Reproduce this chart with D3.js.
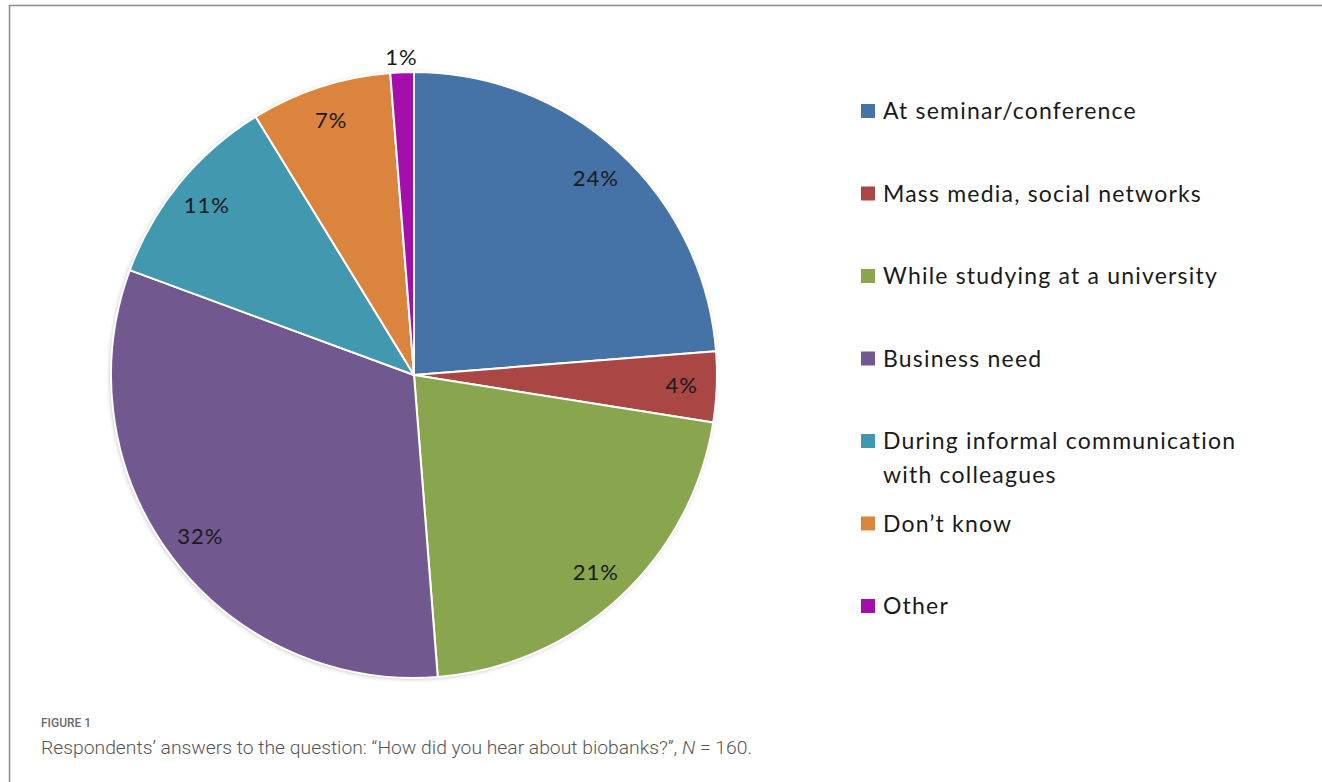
<!DOCTYPE html>
<html>
<head>
<meta charset="utf-8">
<script src="https://cdn.jsdelivr.net/npm/d3@7"></script>
<style>
  body { margin: 0; background: #fff; }
  svg { display: block; }
</style>
</head>
<body>
<div id="chart-container"></div>
<script>
   // answers, N = 160 (counts)
   const categories = [
       "At seminar/conference",
       "Mass media, social networks",
       "While studying at a university",
       "Business need",
       "During informal communication with colleagues",
       "Don\u2019t know",
       "Other"
   ];
   const counts = [38, 6, 34, 51, 17, 12, 2];
   const pctLabels = ["24%", "4%", "21%", "32%", "11%", "7%", "1%"];
   const legendLines = [
       ["At seminar/conference"],
       ["Mass media, social networks"],
       ["While studying at a university"],
       ["Business need"],
       ["During informal communication", "with colleagues"],
       ["Don\u2019t know"],
       ["Other"]
   ];
   const colors = ["#4572a7", "#aa4643", "#89a54e", "#71588f", "#4198af", "#db843d", "#a40fab"];

   const width = 1322, height = 782;
   const cx = 414, cy = 375, radius = 303;

   const svg = d3.select("#chart-container")
       .append("svg")
       .attr("width", width)
       .attr("height", height);

   // frame lines
   svg.append("line")
       .attr("x1", 9).attr("x2", width).attr("y1", 5.5).attr("y2", 5.5)
       .attr("stroke", "#8c8c8c").attr("stroke-width", 1.5);
   svg.append("line")
       .attr("x1", 9.5).attr("x2", 9.5).attr("y1", 5).attr("y2", height)
       .attr("stroke", "#8c8c8c").attr("stroke-width", 1.5);

   const defs = svg.append("defs");
   const filter = defs.append("filter").attr("id", "shadow")
       .attr("x", "-10%").attr("y", "-10%").attr("width", "120%").attr("height", "120%");
   filter.append("feDropShadow")
       .attr("dx", -1).attr("dy", 1).attr("stdDeviation", 2)
       .attr("flood-color", "#000").attr("flood-opacity", 0.25);

   const pie = d3.pie().sort(null).value(d => d);
   const arcs = pie(counts);

   const arc = d3.arc().innerRadius(0).outerRadius(radius);
   const labelArc = d3.arc().innerRadius(268).outerRadius(268);
   const outerLabelArc = d3.arc().innerRadius(318).outerRadius(318);

   const g = svg.append("g")
       .attr("transform", `translate(${cx},${cy})`);

   g.append("circle")
       .attr("r", radius)
       .attr("fill", "#fff")
       .attr("filter", "url(#shadow)");

   g.selectAll("path.slice")
       .data(arcs)
       .join("path")
       .attr("class", "slice")
       .attr("d", arc)
       .attr("fill", (d, i) => colors[i])
       .attr("stroke", "#fff")
       .attr("stroke-width", 2)
       .attr("stroke-linejoin", "round");

   g.selectAll("text.pct")
       .data(arcs)
       .join("text")
       .attr("class", "pct")
       .attr("transform", d => {
           const share = d.value / d3.sum(counts);
           const p = (share < 0.02 ? outerLabelArc : labelArc).centroid(d);
           return `translate(${p[0]},${p[1]})`;
       })
       .attr("text-anchor", "middle")
       .attr("dy", "0.35em")
       .attr("font-family", "Lato, 'Open Sans', sans-serif")
       .attr("font-size", 22)
       .attr("letter-spacing", 1)
       .attr("fill", "#1a1a1a")
       .text((d, i) => pctLabels[i]);

   // legend
   const legend = svg.append("g")
       .attr("transform", "translate(861,111)");
   const itemY = d3.scalePoint()
       .domain(d3.range(categories.length))
       .range([0, 495]);

   const items = legend.selectAll("g.item")
       .data(categories)
       .join("g")
       .attr("class", "item")
       .attr("transform", (d, i) => `translate(0,${itemY(i)})`);

   items.append("rect")
       .attr("x", 0).attr("y", -7)
       .attr("width", 14).attr("height", 14)
       .attr("fill", (d, i) => colors[i]);

   items.append("text")
       .attr("x", 22)
       .attr("font-family", "Lato, 'Open Sans', sans-serif")
       .attr("font-size", 23)
       .attr("letter-spacing", 1.2)
       .attr("fill", "#1a1a1a")
       .selectAll("tspan")
       .data((d, i) => legendLines[i])
       .join("tspan")
       .attr("x", 22)
       .attr("y", (d, j) => j * 34)
       .attr("dy", "0.35em")
       .text(d => d);

   // caption
   svg.append("text")
       .attr("x", 41).attr("y", 727)
       .attr("font-family", "Roboto, sans-serif")
       .attr("font-size", 12)
       .attr("font-weight", 500)
       .attr("fill", "#6b6b6b")
       .text("FIGURE 1");

   const cap = svg.append("text")
       .attr("x", 41).attr("y", 754)
       .attr("font-family", "Roboto, sans-serif")
       .attr("font-size", 19)
       .attr("font-weight", 300)
       .attr("fill", "#555")
       .attr("textLength", 711)
       .attr("lengthAdjust", "spacingAndGlyphs");
   cap.append("tspan").text("Respondents\u2019 answers to the question: \u201cHow did you hear about biobanks?\u201d, ");
   cap.append("tspan").attr("font-style", "italic").text("N");
   cap.append("tspan").text(" = 160.");
</script>
</body>
</html>
